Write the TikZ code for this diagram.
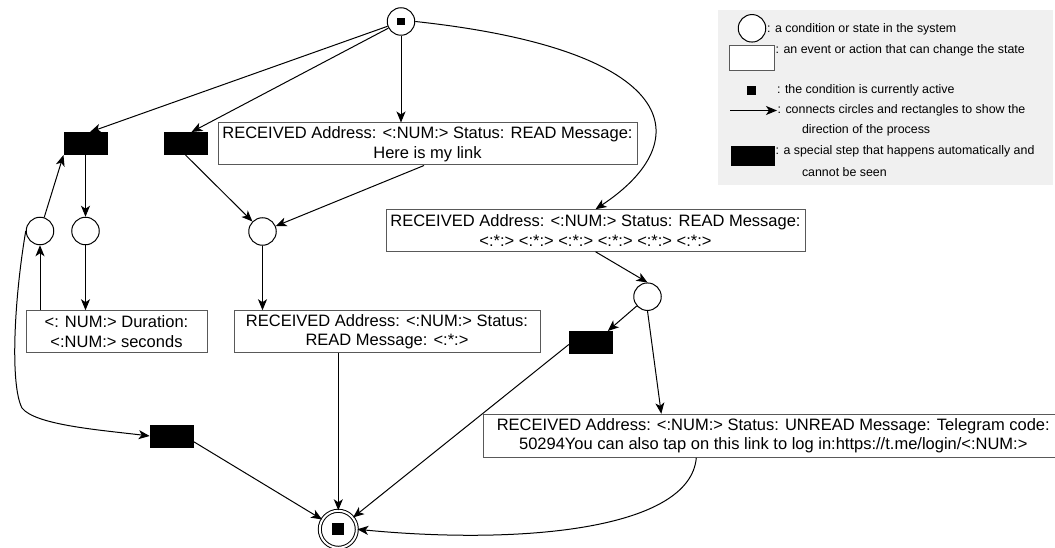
\documentclass[tikz,border=0pt]{standalone}
\usepackage{fontspec}
\setmainfont{Liberation Sans}
\usetikzlibrary{arrows.meta,calc}
\tikzstyle{place}=[circle,draw,fill=white,minimum size=27.5pt,inner sep=0pt]
\tikzstyle{hidden}=[rectangle,draw,fill=black,minimum width=43pt,minimum height=22pt,inner sep=0pt]
\tikzstyle{event}=[rectangle,draw=black!65,fill=white,align=center,inner sep=0pt,font=\fontsize{16.5}{19.5}\selectfont]
\tikzstyle{token}=[rectangle,fill=black,inner sep=0pt]
\tikzstyle{edge}=[draw,->]
\tikzstyle{legtext}=[anchor=west,inner sep=0pt,font=\fontsize{12.4}{14}\selectfont]
\begin{document}
\begin{tikzpicture}[x=1pt,y=-1pt,line width=1pt,>={Stealth[length=11pt,width=9pt,inset=3pt]}]
    \useasboundingbox (0,0) rectangle (1055,548);

    % legend
    \fill[black!6] (718,10) rectangle (1053,185);
    \node[place] (legPlace) at (752,28.3) {};
    \node[event,minimum width=45.7pt,minimum height=25.4pt] (legEvent) at (752,58) {};
    \node[token,minimum size=9.3pt] (legToken) at (751.7,90.7) {};
    \coordinate (legArrowA) at (730,110.5);
    \node[hidden,minimum height=19pt] (legHidden) at (752.5,156.2) {};
    \node[legtext] (legT1) at (766.5,29.3) {: a condition or state in the system};
    \node[legtext] (legT2) at (775,50) {: an event or action that can change the state};
    \node[legtext] (legT3) at (776.5,90.7) {: the condition is currently active};
    \node[legtext] (legT4) at (777,110.5) {: connects circles and rectangles to show the};
    \node[legtext] (legT5) at (801.5,130.5) {direction of the process};
    \node[legtext] (legT6) at (775,151.7) {: a special step that happens automatically and};
    \node[legtext] (legT7) at (801.5,171.7) {cannot be seen};
    \path[edge] (legArrowA) -- (legT4.west);

    % places
    \foreach \pos/\name in {{(40,231)/pLoop}, {(85.5,231)/pDur}, {(262.5,231.5)/pRead}, {(647.5,296.7)/pTel}, {(401,21.5)/start}}
        \node[place] (\name) at \pos {};
    \node[token,minimum size=7.5pt] (startTok) at (start) {};
    \node[place,double,double distance=2pt,minimum size=37pt] (end) at (338.3,529.3) {};
    \node[token,minimum size=11.7pt] (endTok) at (end) {};

    % silent transitions
    \foreach \pos/\name in {{(85.5,143.5)/hLoop}, {(185.5,143.5)/hRead}, {(590.8,342.5)/hTel}, {(171.7,436)/hEnd}}
        \node[hidden] (\name) at \pos {};

    % visible transitions
    \node[event,minimum width=419pt,minimum height=42pt] (eLink) at (427.5,144)
        {RECEIVED Address: <:NUM:> Status: READ Message:\\Here is my link};
    \node[event,minimum width=419pt,minimum height=41.5pt] (eAny) at (595.5,230.5)
        {RECEIVED Address: <:NUM:> Status: READ Message:\\<:*:> <:*:> <:*:> <:*:> <:*:> <:*:>};
    \node[event,minimum width=181pt,minimum height=41.5pt] (eDur) at (116.5,331.5)
        {<: NUM:> Duration:\\<:NUM:> seconds};
    \node[event,minimum width=306pt,minimum height=41.5pt] (eMsg) at (387,331.5)
        {RECEIVED Address: <:NUM:> Status:\\READ Message: <:*:>};
    \node[event,minimum width=580pt,minimum height=43pt] (eTel) at (773.3,435.8)
        {RECEIVED Address: <:NUM:> Status: UNREAD Message: Telegram code:\\50294You can also tap on this link to log in:https://t.me/login/<:NUM:>};

    % arcs
    \path[edge] (start) -- ([xshift=4.5pt]hLoop.north);
    \path[edge] (start) -- ([xshift=6pt]hRead.north);
    \path[edge] (start) -- (start |- eLink.north);
    \path[edge] (start.east) .. controls (680,50) and (700,140) .. (eAny.north);
    \path[edge] (hLoop) -- (pDur);
    \path[edge] (pLoop) -- (hLoop.south west);
    \path[edge] (pDur) -- (pDur |- eDur.north);
    \path[edge] (pLoop |- eDur.north) -- (pLoop);
    \path[edge] (hRead.south) -- (pRead);
    \path[edge] ([xshift=-3.5pt]eLink.south) -- (pRead);
    \path[edge] (pRead) -- (pRead |- eMsg.north);
    \path[edge] (pLoop.west) .. controls (14,300) and (10,385) .. (22,408)
        .. controls (35,425) and (100,430) .. (hEnd.west);
    \path[edge] ([yshift=-5.7pt]hEnd.east) -- (end);
    \path[edge] (eMsg.south -| end) -- (end);
    \path[edge] (eAny.south) -- (pTel.north);
    \path[edge] (pTel) -- ([xshift=-5pt]hTel.north east);
    \path[edge] (pTel.south) -- ([xshift=-112pt]eTel.north);
    \path[edge] ([yshift=-2pt]hTel.west) -- (end);
    \path[edge] ([xshift=-77pt]eTel.south) .. controls (690,530) and (520,545) .. (end.east);

\end{tikzpicture}
\end{document}
